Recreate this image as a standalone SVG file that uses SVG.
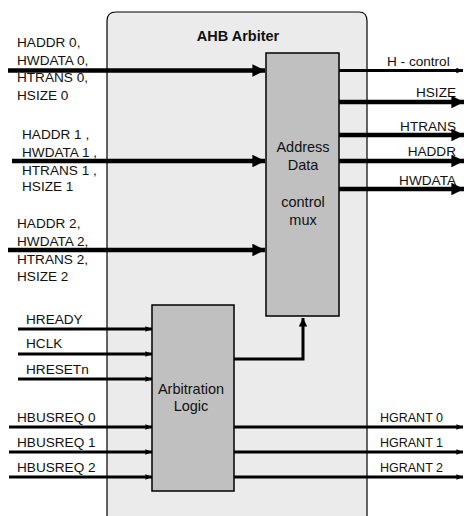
<svg xmlns="http://www.w3.org/2000/svg" width="467" height="516" viewBox="0 0 467 516">
<style>
text{font-family:"Liberation Sans",Arial,sans-serif;font-size:13.6px;fill:#111}
.t{font-weight:bold;font-size:14.5px}
.c{text-anchor:middle}
.in{font-size:14.5px}
.g{font-size:12.5px}
.bus{stroke:#000;stroke-width:4.5;fill:none}
.sig{stroke:#000;stroke-width:3;fill:none}
</style>
<defs>
<marker id="big" viewBox="0 0 10 10" refX="10" refY="5" markerWidth="4.5" markerHeight="2.8" orient="auto" markerUnits="strokeWidth"><path d="M0,0 L10,5 L0,10 z" fill="#000"/></marker>
<marker id="sm" viewBox="0 0 10 10" refX="10" refY="5" markerWidth="3" markerHeight="2.2" orient="auto" markerUnits="strokeWidth"><path d="M0,1 L10,5 L0,9 z" fill="#000"/></marker>
</defs>
<g id="arbiter">
<path d="M107,516 L107,21 Q107,12 116,12 L359,12 Q367,12 367,21 L367,516" fill="#ebebeb" stroke="#000" stroke-width="1.2"/>
<text class="t c" x="238" y="41">AHB Arbiter</text>
</g>
<g id="mux">
<rect x="266" y="53" width="73" height="263" fill="#c0c0c0" stroke="#000" stroke-width="1.5"/>
<text class="c in" x="303" y="152">Address</text>
<text class="c in" x="303" y="170">Data</text>
<text class="c in" x="303" y="207">control</text>
<text class="c in" x="303" y="225">mux</text>
</g>
<g id="arb">
<rect x="152" y="305" width="82" height="186" fill="#c0c0c0" stroke="#000" stroke-width="1.5"/>
<text class="c in" x="191" y="394">Arbitration</text>
<text class="c in" x="191" y="411">Logic</text>
</g>
<g id="labels">
<text x="17" y="47">HADDR 0,</text>
<text x="17" y="65">HWDATA 0,</text>
<text x="17" y="82">HTRANS 0,</text>
<text x="17" y="100">HSIZE 0</text>
<text x="22" y="139">HADDR 1 ,</text>
<text x="22" y="157">HWDATA 1 ,</text>
<text x="22" y="175">HTRANS 1 ,</text>
<text x="22" y="191">HSIZE 1</text>
<text x="17" y="228">HADDR 2,</text>
<text x="17" y="246">HWDATA 2,</text>
<text x="17" y="264">HTRANS 2,</text>
<text x="17" y="281">HSIZE 2</text>
<text x="26" y="324">HREADY</text>
<text x="26" y="348">HCLK</text>
<text x="26" y="374">HRESETn</text>
<text x="17" y="422">HBUSREQ 0</text>
<text x="17" y="447">HBUSREQ 1</text>
<text x="17" y="472">HBUSREQ 2</text>
<text x="387" y="66">H - control</text>
<text x="456" y="97" text-anchor="end">HSIZE</text>
<text x="456" y="131" text-anchor="end">HTRANS</text>
<text x="456" y="156" text-anchor="end">HADDR</text>
<text x="456" y="185" text-anchor="end">HWDATA</text>
<text class="g" x="380" y="422">HGRANT 0</text>
<text class="g" x="380" y="447">HGRANT 1</text>
<text class="g" x="380" y="472">HGRANT 2</text>
</g>
<g id="connectors">
<line class="bus" x1="8" y1="70.5" x2="265" y2="70.5" marker-end="url(#big)"/>
<line class="bus" x1="12" y1="161" x2="265" y2="161" marker-end="url(#big)"/>
<line class="bus" x1="8" y1="250" x2="265" y2="250" marker-end="url(#big)"/>
<line class="sig" x1="339" y1="70.5" x2="463" y2="70.5" marker-end="url(#sm)"/>
<line class="bus" x1="339" y1="102" x2="464" y2="102" marker-end="url(#big)"/>
<line class="bus" x1="339" y1="135" x2="464" y2="135" marker-end="url(#big)"/>
<line class="bus" x1="339" y1="161" x2="464" y2="161" marker-end="url(#big)"/>
<line class="bus" x1="339" y1="189" x2="464" y2="189" marker-end="url(#big)"/>
<line class="sig" x1="18" y1="329" x2="152" y2="329" marker-end="url(#sm)"/>
<line class="sig" x1="18" y1="354" x2="152" y2="354" marker-end="url(#sm)"/>
<line class="sig" x1="18" y1="379" x2="152" y2="379" marker-end="url(#sm)"/>
<line class="sig" x1="9" y1="427" x2="152" y2="427" marker-end="url(#sm)"/>
<line class="sig" x1="9" y1="452" x2="152" y2="452" marker-end="url(#sm)"/>
<line class="sig" x1="9" y1="477" x2="152" y2="477" marker-end="url(#sm)"/>
<line class="sig" x1="234" y1="427" x2="463" y2="427" marker-end="url(#sm)"/>
<line class="sig" x1="234" y1="452" x2="463" y2="452" marker-end="url(#sm)"/>
<line class="sig" x1="234" y1="477" x2="463" y2="477" marker-end="url(#sm)"/>
<polyline class="sig" points="234,359 303,359 303,318" marker-end="url(#big)"/>
</g>
</svg>
